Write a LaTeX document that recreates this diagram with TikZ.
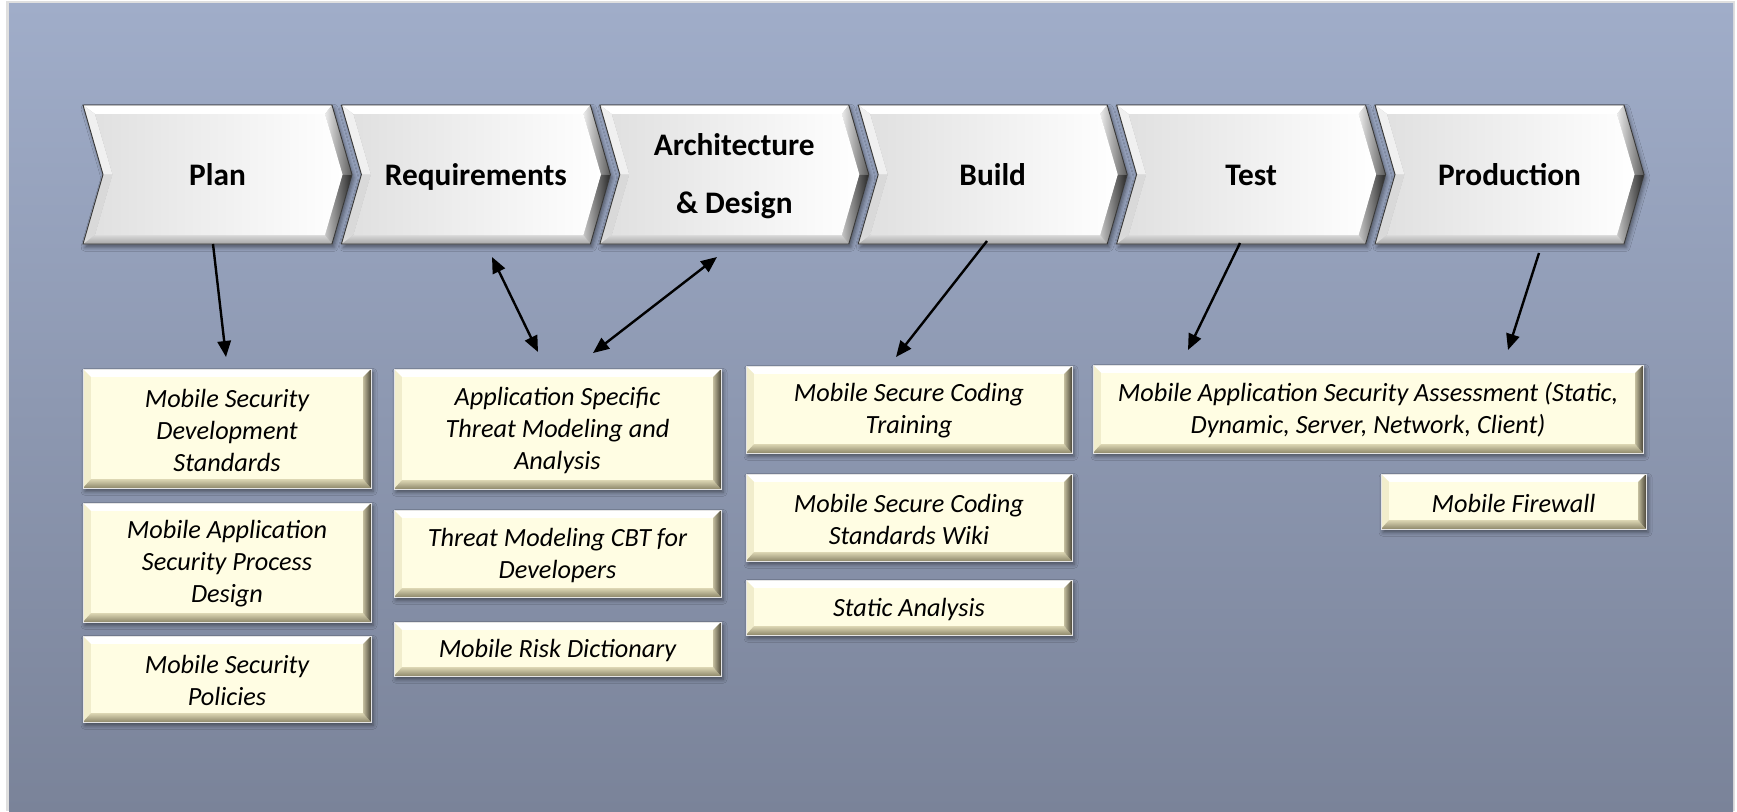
\documentclass[tikz,border=0pt]{standalone}
\usepackage{fontspec}
\setmainfont{Carlito}
\usetikzlibrary{arrows.meta,shadows.blur}
\definecolor{bgtop}{HTML}{A0ADC9}
\definecolor{bgbot}{HTML}{7A8399}
\definecolor{boxface}{HTML}{FFFDE3}
\definecolor{boxleft}{HTML}{F1EDCC}
\definecolor{boxbotA}{HTML}{DDD7B4}
\definecolor{boxbotB}{HTML}{8E886B}
\definecolor{boxrgtA}{HTML}{C4BE9E}
\definecolor{boxrgtB}{HTML}{4B4739}
\tikzset{
  headtext/.style={font=\fontsize{23.5}{43.5}\selectfont\bfseries, align=center, inner sep=0pt},
  itemtext/.style={font=\fontsize{19.7}{24}\selectfont\itshape, align=center, inner sep=0pt},
  conn/.style={draw=black, line width=1.8pt, -{Triangle[length=12pt,width=10pt]}},
  dconn/.style={draw=black, line width=1.8pt, {Triangle[length=12pt,width=10pt]}-{Triangle[length=12pt,width=10pt]}},
  shad/.style={blur shadow={shadow xshift=1.5pt, shadow yshift=-2.5pt, shadow opacity=45, shadow blur radius=3pt}}
}
% chevron: #1 left x
\newcommand\chevshape[1]{%
  \begin{scope}[shift={(#1,0)}]
    \path[fill=gray!60, shad] (0,105)--(249,105)--(269,174.5)--(249,244)--(0,244)--(20,174.5)--cycle;
    \fill[white] (0,105)--(249,105)--(242,114)--(12,114)--cycle;
    \shade[left color=gray!15, right color=gray!70!black] (249,105)--(269,174.5)--(259.5,174.5)--(242,114)--cycle;
    \shade[left color=gray!45, right color=gray!30!black] (269,174.5)--(249,244)--(242,235)--(259.5,174.5)--cycle;
    \shade[top color=gray!30, bottom color=gray!70] (249,244)--(0,244)--(12,235)--(242,235)--cycle;
    \fill[gray!30] (0,244)--(20,174.5)--(29.5,174.5)--(12,235)--cycle;
    \fill[gray!12] (20,174.5)--(0,105)--(12,114)--(29.5,174.5)--cycle;
    \shade[left color=gray!24, right color=white] (12,114)--(242,114)--(259.5,174.5)--(242,235)--(12,235)--(29.5,174.5)--cycle;
    \draw[gray!45!black, line width=0.7pt] (0,105)--(249,105)--(269,174.5)--(249,244)--(0,244)--(20,174.5)--cycle;
  \end{scope}}
% bevelled box: #1 x1, #2 y1, #3 x2, #4 y2
\newcommand\boxshape[4]{%
  \path[fill=boxface, shad] (#1,#2) rectangle (#3,#4);
  \fill[white] (#1,#2)--(#3,#2)--({#3-8},{#2+8})--({#1+8},{#2+8})--cycle;
  \fill[boxleft] (#1,#2)--({#1+8},{#2+8})--({#1+8},{#4-9})--(#1,#4)--cycle;
  \shade[top color=boxbotA, bottom color=boxbotB] (#1,#4)--(#3,#4)--({#3-8},{#4-9})--({#1+8},{#4-9})--cycle;
  \shade[left color=boxrgtA, right color=boxrgtB] (#3,#2)--({#3-8},{#2+8})--({#3-8},{#4-9})--(#3,#4)--cycle;
  \fill[boxface] ({#1+8},{#2+8}) rectangle ({#3-8},{#4-9});
  \draw[white!80!gray, line width=0.5pt] (#1,#2) rectangle (#3,#4);}
\begin{document}
\begin{tikzpicture}[x=0.75pt, y=-0.75pt]
  \useasboundingbox (0,0) rectangle (1737,811);
  \fill[white] (0,0) rectangle (1737,811);
  \fill[gray!25] (6,1) rectangle (1735,811);
  \shade[top color=bgtop, bottom color=bgbot] (9,3) rectangle (1733,811);

  % chevrons
  \chevshape{83}
  \chevshape{341.4}
  \chevshape{599.8}
  \chevshape{858.2}
  \chevshape{1116.6}
  \chevshape{1375}
  \node[headtext, anchor=base] (plan) at (217.5,185) {Plan};
  \node[headtext, anchor=base] (req) at (475.9,185) {Requirements};
  \node[headtext] (arch) at (734.3,176.5) {Architecture\\\& Design};
  \node[headtext, anchor=base] (build) at (992.7,185) {Build};
  \node[headtext, anchor=base] (test) at (1251.1,185) {Test};
  \node[headtext, anchor=base] (prod) at (1509.5,185) {Production};

  % item boxes
  \boxshape{83}{369}{371}{488}
  \node[itemtext] (msds) at (227,430) {Mobile Security\\Development\\Standards};
  \boxshape{83}{503}{371}{622}
  \node[itemtext] (maspd) at (227,564) {Mobile Application\\Security Process\\Design};
  \boxshape{83}{636}{371}{722}
  \node[itemtext] (msp) at (227,680.5) {Mobile Security\\Policies};

  \boxshape{394}{369}{721}{489}
  \node[itemtext] (astm) at (557.5,430.5) {Application Specific\\Threat Modeling and\\Analysis};
  \boxshape{394}{510}{721}{597}
  \node[itemtext] (tmcbt) at (557.5,555) {Threat Modeling CBT for\\Developers};
  \boxshape{394}{622}{721}{676}
  \node[itemtext] (mrd) at (557.5,650.5) {Mobile Risk Dictionary};

  \boxshape{746}{366}{1072}{453}
  \node[itemtext] (msct) at (909,411) {Mobile Secure Coding\\Training};
  \boxshape{746}{474}{1072}{561}
  \node[itemtext] (mscsw) at (909,519) {Mobile Secure Coding\\Standards Wiki};
  \boxshape{746}{580}{1072}{635}
  \node[itemtext] (sa) at (909,609) {Static Analysis};

  \boxshape{1093}{365}{1643}{453}
  \node[itemtext] (masa) at (1368,410.5) {Mobile Application Security Assessment (Static,\\Dynamic, Server, Network, Client)};
  \boxshape{1381}{474}{1646}{529}
  \node[itemtext] (mfw) at (1513.5,503) {Mobile Firewall};

  % connector end points
  \coordinate (planA) at (213,244);
  \coordinate (planB) at (226,357);
  \coordinate (reqA) at (492,257);
  \coordinate (reqB) at (538,352);
  \coordinate (archA) at (717,257);
  \coordinate (archB) at (593,353);
  \coordinate (buildA) at (987,241);
  \coordinate (buildB) at (896,357);
  \coordinate (testA) at (1240,243);
  \coordinate (testB) at (1188,350);
  \coordinate (prodA) at (1539,253);
  \coordinate (prodB) at (1508,350);

  \draw[conn] (planA) -- (planB);
  \draw[dconn] (reqA) -- (reqB);
  \draw[dconn] (archA) -- (archB);
  \draw[conn] (buildA) -- (buildB);
  \draw[conn] (testA) -- (testB);
  \draw[conn] (prodA) -- (prodB);
\end{tikzpicture}
\end{document}
